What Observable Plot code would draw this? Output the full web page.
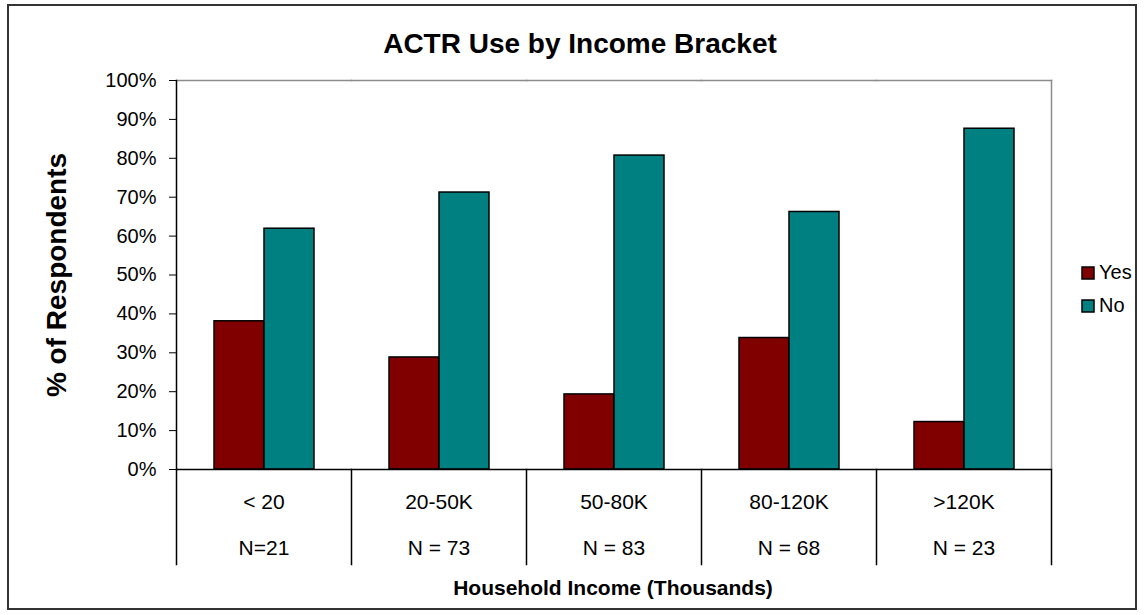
<!DOCTYPE html>
<html>
<head>
<meta charset="utf-8">
<script src="https://cdn.jsdelivr.net/npm/d3@7"></script>
<script src="https://cdn.jsdelivr.net/npm/@observablehq/plot@0.6"></script>
<style>
  html, body { margin: 0; padding: 0; background: #fff; }
  body { font-family: "Liberation Sans", Arial, sans-serif; color: #000; }
  #chart { position: relative; width: 1144px; height: 615px; overflow: hidden; background: #fff; }
  #chart .outline { position: absolute; left: 7px; top: 4px; width: 1126px; height: 602px; border: 2px solid #333; }
  #plot { position: absolute; left: 0; top: 0; }
  #title { position: absolute; left: 580px; top: 30px; transform: translateX(-50%); font-size: 28px; font-weight: bold; line-height: 28px; white-space: nowrap; }
  #xtitle { position: absolute; left: 175px; width: 876px; top: 578px; text-align: center; font-size: 21px; font-weight: bold; line-height: 20px; white-space: nowrap; }
  #legend { position: absolute; left: 1082px; top: 256px; }
  #legend * { font-family: "Liberation Sans", Arial, sans-serif !important; font-size: 20px !important; color: #000 !important; }
  #legend .lg-swatches { margin: 0 !important; min-height: 0 !important; }
  #legend .lg-swatch { height: 33px; padding: 0 !important; margin: 0 !important; display: flex; align-items: center; }
  #legend svg { margin-right: 5px !important; overflow: visible !important; }
  #legend svg rect { stroke: #000; stroke-width: 1.5px; }
</style>
</head>
<body>
<div id="chart">
  <div class="outline"></div>
  <div id="plot"></div>
  <div id="title">ACTR Use by Income Bracket</div>
  <div id="xtitle">Household Income (Thousands)</div>
  <div id="legend"></div>
</div>
<script>
// Household income brackets and the sample size of each bracket
const categories = ["< 20", "20-50K", "50-80K", "80-120K", ">120K"];
const sampleSizes = ["N=21", "N = 73", "N = 83", "N = 68", "N = 23"];

// Share of respondents (percent) answering Yes / No in each bracket
const answers = ["Yes", "No"];
const yesValues = [38.1, 28.8, 19.3, 33.8, 12.2];
const noValues = [61.9, 71.2, 80.7, 66.2, 87.6];

// Percent axis ticks
const yTicks = [0, 10, 20, 30, 40, 50, 60, 70, 80, 90, 100];
const answerColors = ["#800000", "#008080"];

const rows = categories.flatMap((category, i) => [
  {category, answer: "Yes", value: yesValues[i]},
  {category, answer: "No", value: noValues[i]}
]);
const tableRows = categories.map((category, i) => ({category, n: sampleSizes[i]}));

const font = '"Liberation Sans", Arial, sans-serif';
const lineColor = "#000";
const edgeColor = "#8c8c8c";

const chart = Plot.plot({
  width: 1144,
  height: 615,
  marginLeft: 175,
  marginRight: 93,
  marginTop: 80,
  marginBottom: 146,
  style: {fontFamily: font, fontSize: "20px", color: "#000", background: "transparent", overflow: "visible"},
  fx: {domain: categories, padding: 0, axis: null, label: null},
  x: {domain: answers, paddingInner: 0, paddingOuter: 0.75, axis: null},
  y: {domain: [0, 100], axis: null},
  color: {domain: answers, range: answerColors},
  marks: [
    // Clustered bars, one pair per income bracket
    Plot.barY(rows, {fx: "category", x: "answer", y: "value", fill: "answer", stroke: lineColor, strokeWidth: 1.5}),
    // Gray top and right edges of the plot area
    Plot.frame({anchor: "top", stroke: edgeColor, strokeWidth: 1.5}),
    Plot.frame({anchor: "right", facetAnchor: "right", stroke: edgeColor, strokeWidth: 1.5}),
    // Category axis baseline
    Plot.ruleY([0], {stroke: lineColor, strokeWidth: 1.5}),
    // Value axis line
    Plot.frame({anchor: "left", facetAnchor: "left", stroke: lineColor, strokeWidth: 1.5}),
    // Data-table cell dividers below each bracket
    Plot.frame({anchor: "left", insetTop: 389, insetBottom: -95, stroke: lineColor, strokeWidth: 1.5}),
    Plot.frame({anchor: "right", facetAnchor: "right", insetTop: 389, insetBottom: -95, stroke: lineColor, strokeWidth: 1.5}),
    Plot.axisY({ticks: yTicks, tickFormat: d => d + "%", tickSize: 7, tickPadding: 13, fontSize: 20, label: null, stroke: lineColor}),
    // Table rows: bracket name and sample size
    Plot.text(tableRows, {fx: "category", text: "category", frameAnchor: "bottom", lineAnchor: "middle", dy: 33, fontSize: 21}),
    Plot.text(tableRows, {fx: "category", text: "n", frameAnchor: "bottom", lineAnchor: "middle", dy: 79, fontSize: 21}),
    // Value axis title
    Plot.text(["% of Respondents"], {text: d => d, frameAnchor: "left", facetAnchor: "left", textAnchor: "middle", lineAnchor: "middle", rotate: -90, dx: -119, fontSize: 28, fontWeight: "bold"})
  ]
});
document.getElementById("plot").append(chart);

const legend = chart.legend("color", {columns: 1, swatchSize: 12, className: "lg"});
document.getElementById("legend").append(legend);
</script>
</body>
</html>
